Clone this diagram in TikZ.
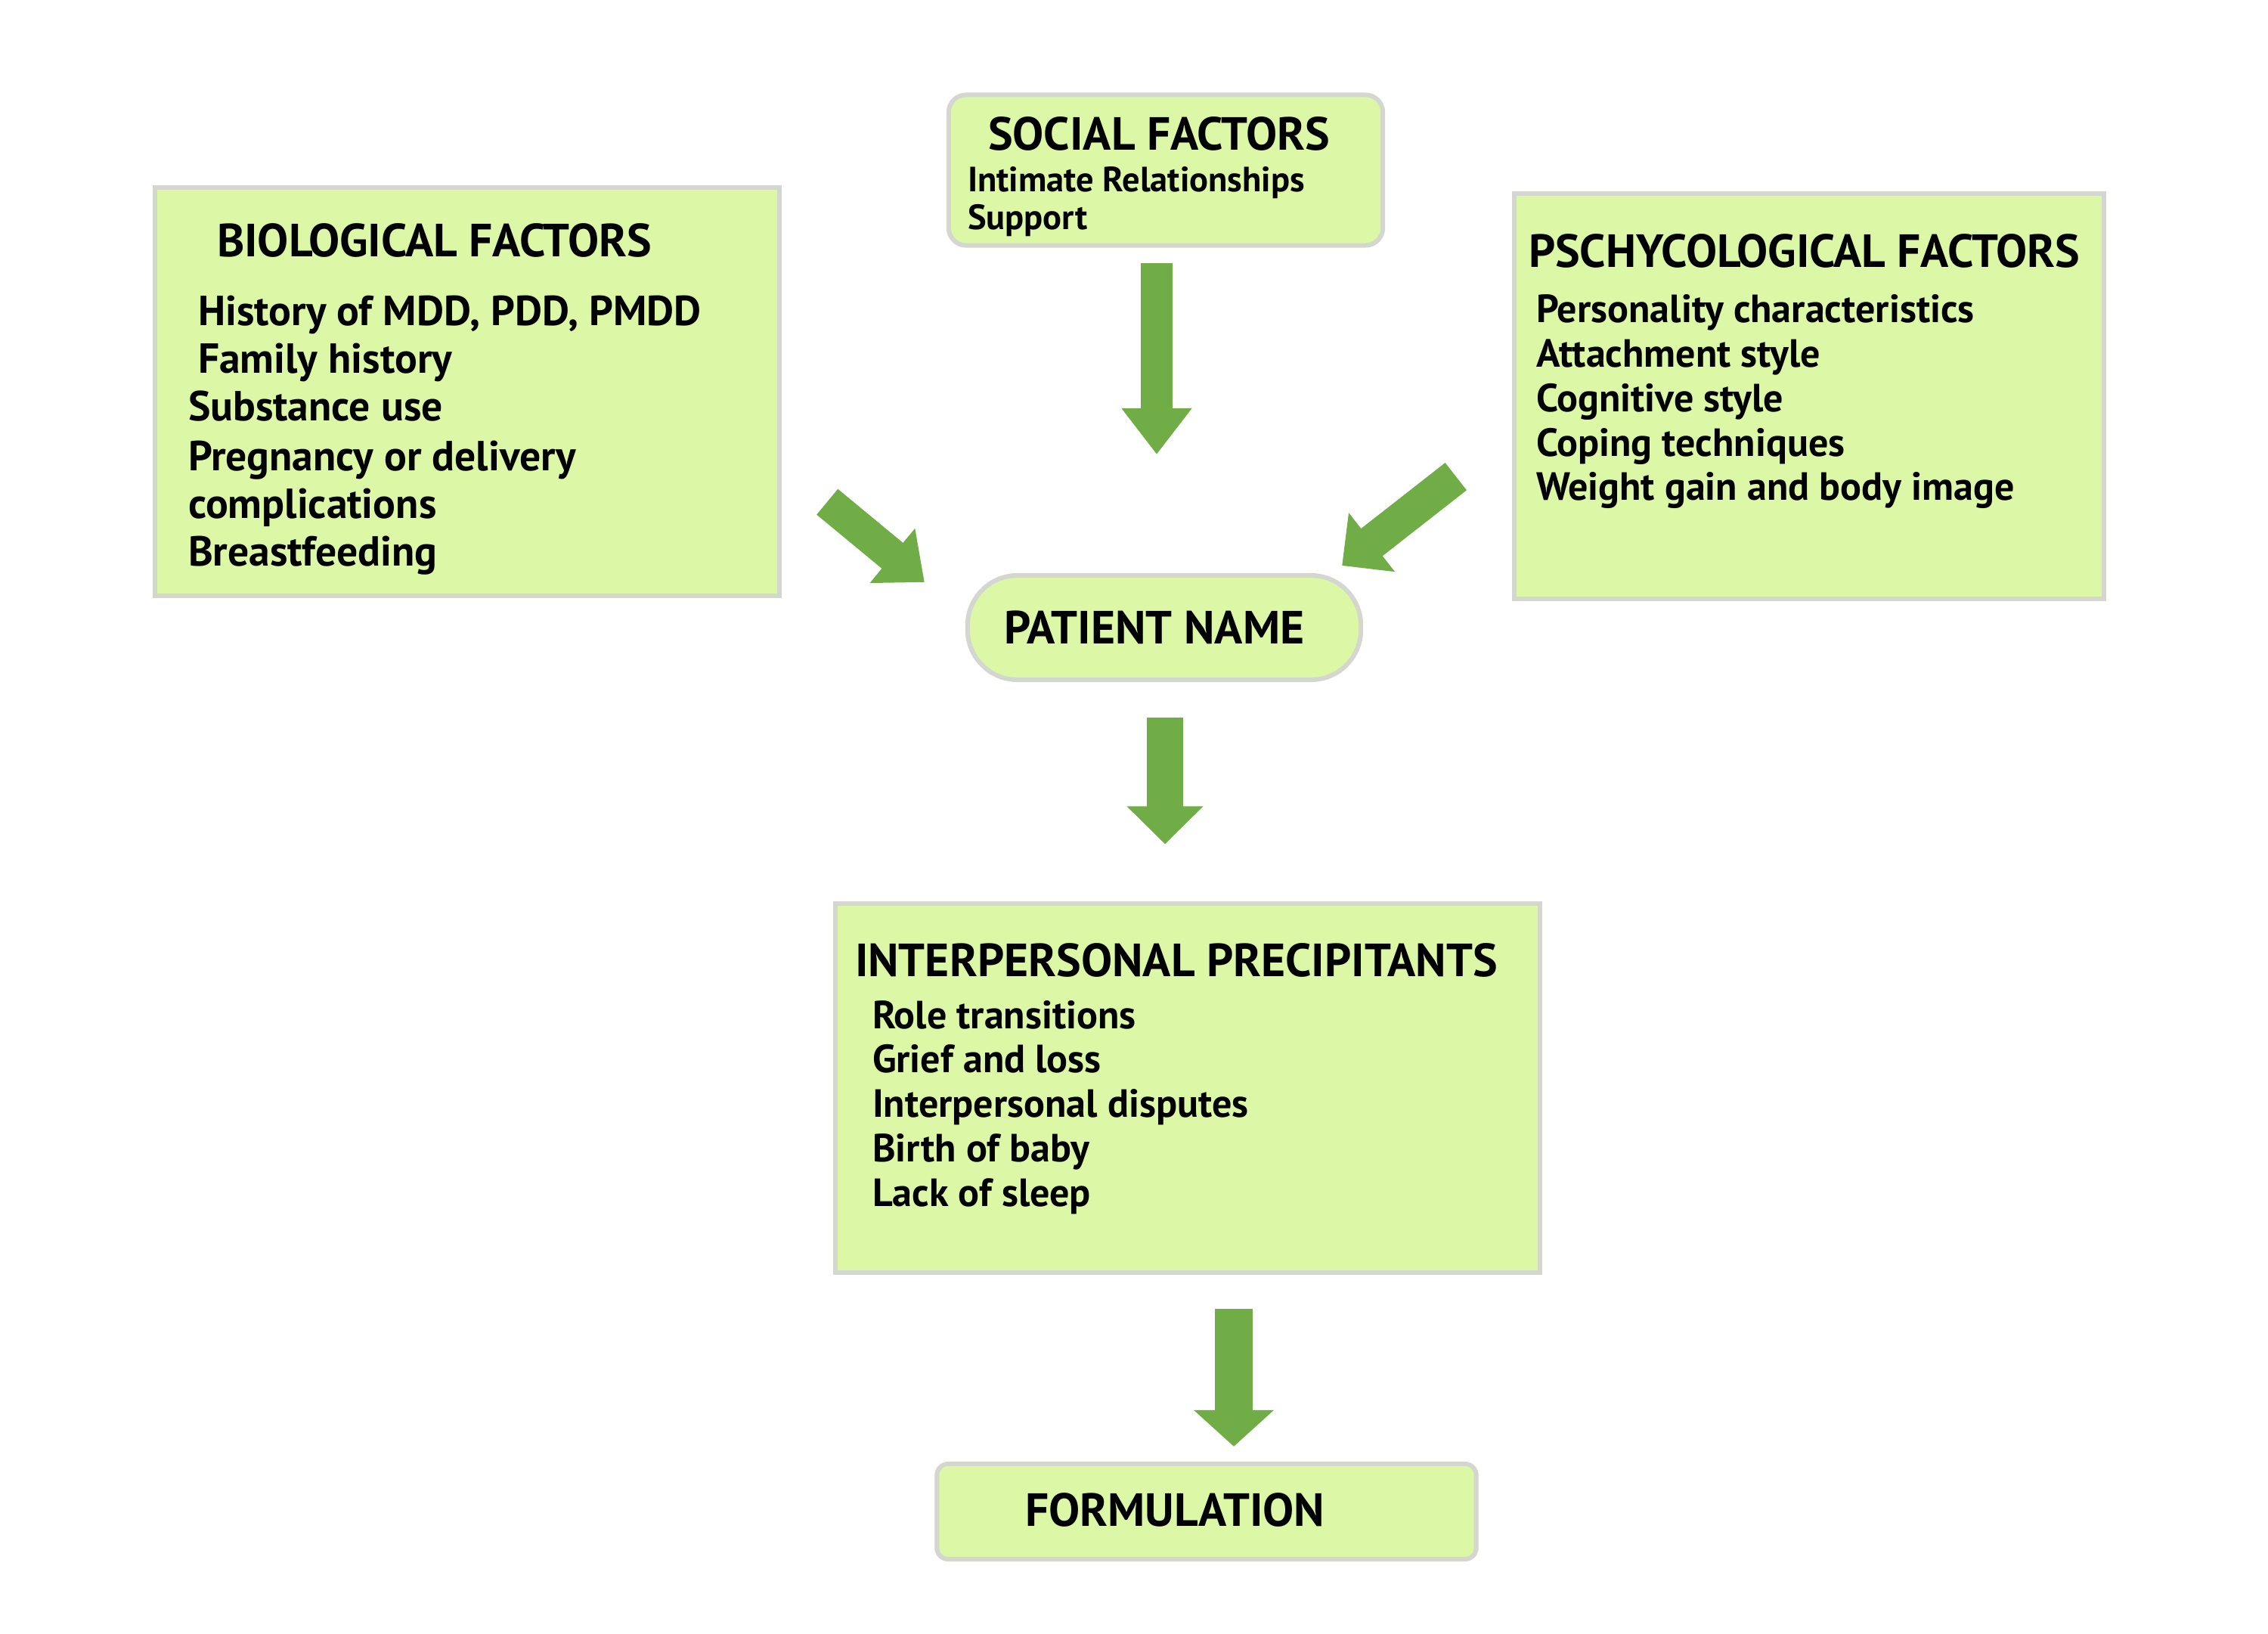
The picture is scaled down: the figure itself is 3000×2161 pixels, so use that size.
\documentclass[tikz,border=0pt]{standalone}
\usepackage{fontspec}
\setmainfont{PT Sans}
\usepackage{xcolor}
\usepackage{tikz}
\usetikzlibrary{arrows.meta,calc,positioning}

\definecolor{boxfill}{RGB}{220,248,166}
\definecolor{boxline}{RGB}{212,214,208}
\definecolor{arrowgreen}{RGB}{112,173,71}

\begin{document}
\begin{tikzpicture}[x=0.01cm,y=-0.01cm,
	every node/.style={inner sep=0pt,outer sep=0pt},
	panel/.style={draw=boxline,fill=boxfill,line width=0.06cm},
	heading/.style={anchor=base west,font=\bfseries\fontsize{17.5}{21}\selectfont},
	bioitem/.style={anchor=base west,font=\bfseries\fontsize{15.8}{19}\selectfont},
	item/.style={anchor=base west,font=\bfseries\fontsize{14.8}{17}\selectfont},
	smallitem/.style={anchor=base west,font=\bfseries\fontsize{13.2}{16}\selectfont},
	fatarrow/.style={draw=arrowgreen,line width=#1},
	fatarrow/.default=0.44cm]
\useasboundingbox (0,0) rectangle (3000,2161);

% boxes
\node[panel,minimum width=8.26cm,minimum height=5.39cm] (bio) at (618,518) {};
\node[panel,rounded corners=0.23cm,minimum width=5.74cm,minimum height=1.99cm] (social) at (1542,225) {};
\node[panel,minimum width=7.8cm,minimum height=5.36cm] (psych) at (2393,524) {};
\node[panel,rounded corners=0.66cm,minimum width=5.2cm,minimum height=1.38cm] (patient) at (1540,830) {};
\node[panel,minimum width=9.31cm,minimum height=4.87cm] (inter) at (1571,1439) {};
\node[panel,rounded corners=0.15cm,minimum width=7.13cm,minimum height=1.26cm] (form) at (1596,1999) {};

% headings
\node[heading] (bio-title) at (287,340) {BIOLOGICAL FACTORS};
\node[heading] (social-title) at (1307,199) {SOCIAL FACTORS};
\node[heading] (psych-title) at (2022,354) {PSCHYCOLOGICAL FACTORS};
\node[heading] (patient-title) at (1328,851) {PATIENT NAME};
\node[heading] (inter-title) at (1131,1291) {INTERPERSONAL PRECIPITANTS};
\node[heading] (form-title) at (1356,2018) {FORMULATION};

% lists
\node[bioitem] (bio-1) at (262,430) {History of MDD, PDD, PMDD};
\node[bioitem] (bio-2) at (262,494) {Family history};
\node[bioitem] (bio-3) at (249,557) {Substance use};
\node[bioitem] (bio-4) at (249,622) {Pregnancy or delivery};
\node[bioitem] (bio-5) at (249,685) {complications};
\node[bioitem] (bio-6) at (249,748) {Breastfeeding};

\node[smallitem] (social-1) at (1280,254) {Intimate Relationships};
\node[smallitem] (social-2) at (1280,304) {Support};

\foreach \t [count=\i] in {Personality characteristics,Attachment style,Cognitive style,Coping techniques,Weight gain and body image}
	\node[item] (psych-\i) at (2032,{427+58.7*(\i-1)}) {\t};

\foreach \t [count=\i] in {Role transitions,Grief and loss,Interpersonal disputes,Birth of baby,Lack of sleep}
	\node[item] (inter-\i) at (1154,{1360+58.8*(\i-1)}) {\t};

% arrows
\draw[fatarrow=0.42cm,-{Triangle[width=0.89cm,length=0.61cm]}]
	($(social.south)+(-12,23)$) -- ($(patient.north)+(-10,-160)$);
\draw[fatarrow=0.44cm,-{Triangle[width=0.9cm,length=0.55cm]}]
	($(bio.south east)+(63,-124)$) -- ($(patient.west)+(-57,-60)$);
\draw[fatarrow=0.46cm,-{Triangle[width=0.96cm,length=0.5cm]}]
	($(psych.south west)+(-77,-162)$) -- ($(patient.east)+(-25,-82)$);
\draw[fatarrow=0.48cm,-{Triangle[width=0.98cm,length=0.5cm]}]
	($(patient.south)+(1,50)$) -- ($(inter.north)+(-30,-79)$);
\draw[fatarrow=0.5cm,-{Triangle[width=1.03cm,length=0.48cm]}]
	($(inter.south)+(61,48)$) -- ($(form.north)+(36,-23)$);
\end{tikzpicture}
\end{document}
